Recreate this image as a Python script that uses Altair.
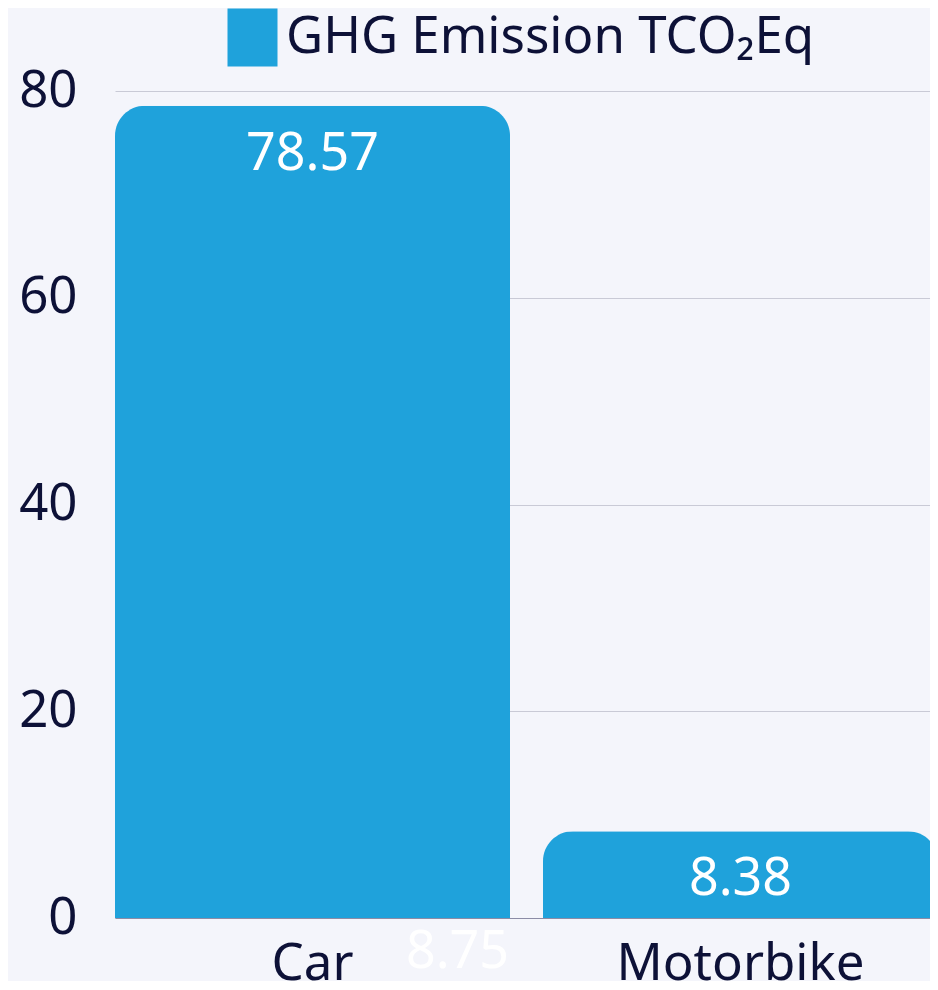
import altair as alt
import pandas as pd

categories = ["Car", "Motorbike"]
values = [78.57, 8.38]
value_labels = ["78.57", "8.38"]
stray_category = ["Car"]
stray_label = ["8.75"]
series_name = "GHG Emission TCO₂Eq"
y_ticks = [0, 20, 40, 60, 80]

df = pd.DataFrame({
    "category": categories,
    "value": values,
    "label": value_labels,
    "series": [series_name] * len(categories),
})
stray = pd.DataFrame({"category": stray_category, "label": stray_label, "value": [0] * len(stray_label)})

FONT = "Noto Sans"
BLUE = "#1fa2db"
INK = "#0d1137"
BG = "#f4f5fb"

x_enc = alt.X(
    "category:N", sort=categories,
    scale=alt.Scale(paddingInner=0.077, paddingOuter=0, range=[0, 823]),
    axis=alt.Axis(title=None, labelAngle=0, ticks=False, labelPadding=21,
                  labelFontSize=51, labelColor=INK, labelFont=FONT, labelLimit=500,
                  labelBaseline="top", domainColor="#8c8ca6", grid=False),
)
y_enc = alt.Y(
    "value:Q", scale=alt.Scale(domain=[0, 80], nice=False),
    axis=alt.Axis(title=None, values=y_ticks, ticks=False, domain=False,
                  labelPadding=38, labelFontSize=51, labelColor=INK, labelFont=FONT,
                  gridColor="#c9cad6", gridWidth=1),
)

bars = alt.Chart(df).mark_bar(
    cornerRadiusTopLeft=30, cornerRadiusTopRight=30
).encode(
    x=x_enc, y=y_enc,
    color=alt.Color("series:N", scale=alt.Scale(range=[BLUE]),
                    legend=alt.Legend(title=None, orient="none", legendX=112, legendY=-79,
                                      padding=0, symbolType="M-1,-1.16H1V1.16H-1Z",
                                      symbolSize=2500, symbolStrokeWidth=0, symbolOpacity=1,
                                      labelFontSize=51, labelColor=INK, labelFont=FONT,
                                      labelOffset=8, labelLimit=800)),
)

labels = alt.Chart(df).mark_text(
    color="white", fontSize=52, font=FONT, baseline="middle", dy=48
).encode(x=alt.X("category:N", sort=categories), y="value:Q", text="label:N")

stray_text = alt.Chart(stray).mark_text(
    color="white", fontSize=52, font=FONT, baseline="middle", dx=145, dy=34
).encode(x=alt.X("category:N", sort=categories), y="value:Q", text="label:N")

chart = alt.layer(bars, labels, stray_text).properties(
    width=815, height=827,
    autosize=alt.AutoSizeParams(type="none"),
    padding={"left": 107, "top": 83, "right": 0, "bottom": 63},
    background=BG,
).configure_view(stroke=None)

chart.save("out.html", embed_options={"renderer": "svg", "actions": False})
